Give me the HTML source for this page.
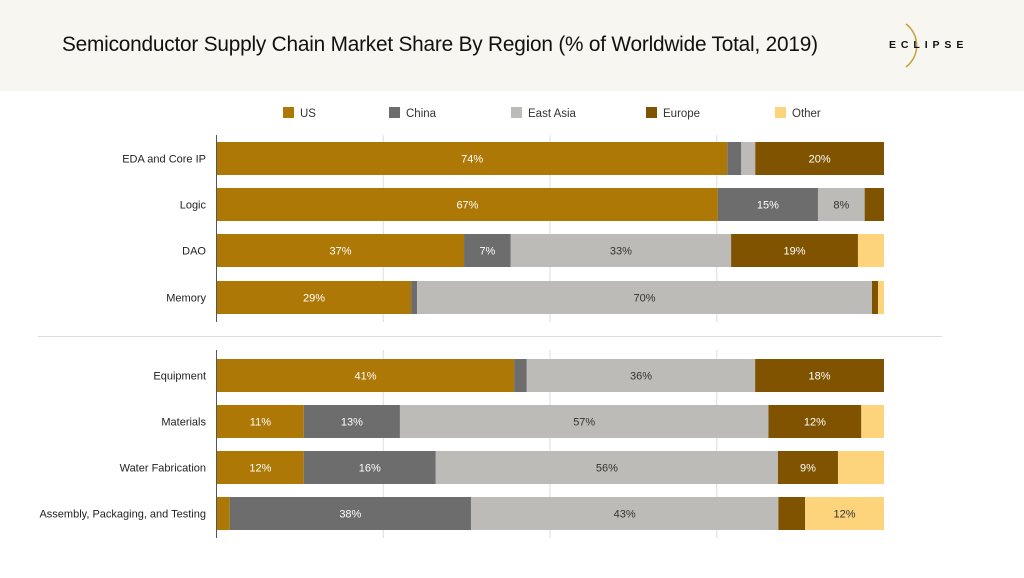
<!DOCTYPE html>
<html><head><meta charset="utf-8"><style>
body{margin:0;width:1024px;height:578px;background:#fff;font-family:"Liberation Sans",sans-serif;overflow:hidden;position:relative}
#hdr{position:absolute;left:0;top:0;width:1024px;height:91px;background:#f7f6f1}
#title{position:absolute;left:62px;top:33px;font-size:20.8px;color:#111;letter-spacing:-0.2px}
#logo{position:absolute;left:889px;top:39px;font-size:10.5px;font-weight:bold;letter-spacing:4.9px;color:#111}
svg{position:absolute;left:0;top:0}
</style></head><body>
<div id="hdr"></div>
<div id="title">Semiconductor Supply Chain Market Share By Region (% of Worldwide Total, 2019)</div>
<svg width="1024" height="578" id="logo-svg"><path d="M906 24 A27 27 0 0 1 906 67" fill="none" stroke="#c9a23a" stroke-width="1.5"/></svg>
<div id="logo">ECLIPSE</div>
<svg id="chart" width="1024" height="578"></svg>
<script>
const categories=["EDA and Core IP","Logic","DAO","Memory","Equipment","Materials","Water Fabrication","Assembly, Packaging, and Testing"];
const series=["US","China","East Asia","Europe","Other"];
const us=[76.5,75.1,37.0,29.1,44.5,13.0,13.0,1.9];
const china=[2.1,15.0,7.0,0.9,1.9,14.4,19.8,36.1];
const eastAsia=[2.1,7.0,33.0,68.2,34.2,55.2,51.3,46.0];
const europe=[19.3,2.9,19.0,0.9,19.3,13.9,9.0,4.0];
const other=[0,0,3.9,0.9,0,3.4,6.9,11.8];
const usLabels=["74%","67%","37%","29%","41%","11%","12%",""];
const chinaLabels=["","15%","7%","","","13%","16%","38%"];
const eastAsiaLabels=["","8%","33%","70%","36%","57%","56%","43%"];
const europeLabels=["20%","","19%","","18%","12%","9%",""];
const otherLabels=["","","","","","","","12%"];
const colors=["#ae7806","#6d6d6d","#bcbbb7","#7f5300","#fdd47c"];
const svg=document.getElementById('chart');const NS='http://www.w3.org/2000/svg';
const x0=217,x1=884;const xs=v=>x0+(x1-x0)*v/100;
const rowY=[142,188,234,281,359,405,451,497];const bh=33;
function mk(t,a){const e=document.createElementNS(NS,t);for(const k in a)e.setAttribute(k,a[k]);svg.appendChild(e);return e;}
[25,50,75].forEach(p=>{const l=mk('line',{x1:xs(p)-0.5,x2:xs(p)-0.5,y1:135,y2:322,stroke:'#ddd'});


const l2=mk('line',{x1:xs(p)-0.5,x2:xs(p)-0.5,y1:350,y2:538,stroke:'#ddd'});

});
const sep=mk('line',{x1:38,x2:942,y1:336.5,y2:336.5,stroke:'#ddd'});


const all=[us,china,eastAsia,europe,other];const labs=[usLabels,chinaLabels,eastAsiaLabels,europeLabels,otherLabels];
categories.forEach((c,i)=>{
 const tot=all.reduce((s,a)=>s+a[i],0);let acc=0;
 all.forEach((arr,j)=>{const v=arr[i]/tot*100;const a=xs(acc),b=xs(acc+v);acc+=v;
  const r=mk('rect',{x:a,y:rowY[i],width:Math.max(0,b-a),height:bh,fill:colors[j]});
  
  
  if(labs[j][i]){const t=mk('text',{x:(a+b)/2,y:rowY[i]+bh/2+4,'text-anchor':'middle','font-size':11,fill:j==2||j==4?'#333':'#fff'});t.textContent=labs[j][i];
  
  }
 });
 const t=mk('text',{x:206,y:rowY[i]+bh/2+4,'text-anchor':'end','font-size':11,fill:'#222'});t.textContent=c;
 
 
});
[[135,322],[350,538]].forEach(([a,b])=>{const l=mk('line',{x1:216.5,x2:216.5,y1:a,y2:b,stroke:'#555'});

});
const lx=[283,389,511,646,775];
series.forEach((s,j)=>{const r=mk('rect',{x:lx[j],y:107,width:11,height:11,fill:colors[j]});


const t=mk('text',{x:lx[j]+17,y:117,'font-size':11.5,fill:'#333'});t.textContent=s;

});
</script>
</body></html>
